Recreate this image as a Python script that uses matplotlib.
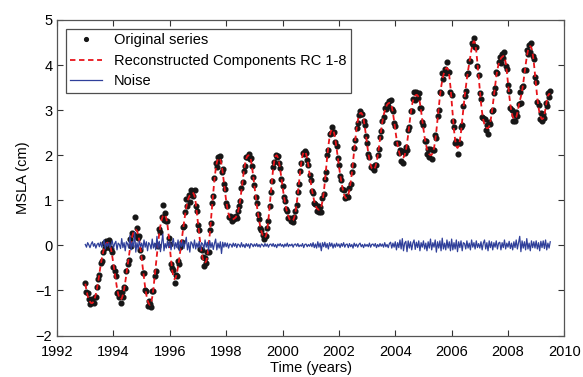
import matplotlib
matplotlib.use("Agg")
import matplotlib.pyplot as plt
import numpy as np

# reconstructed components (RC 1-8), half-monthly values, 1993.0 .. 2009.5
rc = [
    -0.85, -1.00, -1.12, -1.20, -1.25, -1.28, -1.28, -1.25, -1.18, -1.08, -0.95, -0.80,
    -0.62, -0.45, -0.30, -0.17, -0.06, 0.02, 0.05, 0.06, 0.05, 0.00, -0.10, -0.25,      # 1993
    -0.42, -0.60, -0.78, -0.95, -1.08, -1.17, -1.20, -1.18, -1.10, -0.98, -0.82, -0.64,
    -0.45, -0.26, -0.08, 0.08, 0.20, 0.29, 0.34, 0.35, 0.32, 0.24, 0.10, -0.08,         # 1994
    -0.30, -0.52, -0.74, -0.94, -1.10, -1.22, -1.29, -1.32, -1.28, -1.15, -0.96, -0.72,
    -0.46, -0.20, 0.05, 0.27, 0.44, 0.57, 0.65, 0.68, 0.67, 0.60, 0.45, 0.22,           # 1995
    -0.05, -0.32, -0.55, -0.70, -0.75, -0.72, -0.62, -0.47, -0.30, -0.10, 0.10, 0.30,
    0.50, 0.68, 0.84, 0.97, 1.06, 1.11, 1.14, 1.16, 1.16, 1.10, 0.95, 0.72,             # 1996
    0.50, 0.25, 0.02, -0.16, -0.29, -0.37, -0.39, -0.35, -0.22, -0.02, 0.25, 0.55,
    0.87, 1.18, 1.46, 1.68, 1.84, 1.92, 1.94, 1.90, 1.80, 1.62, 1.40, 1.18,             # 1997
    0.98, 0.82, 0.70, 0.62, 0.58, 0.57, 0.58, 0.60, 0.62, 0.66, 0.74, 0.86,
    1.02, 1.22, 1.44, 1.64, 1.80, 1.92, 1.98, 2.00, 1.98, 1.90, 1.74, 1.54,             # 1998
    1.32, 1.10, 0.90, 0.72, 0.56, 0.42, 0.31, 0.23, 0.18, 0.17, 0.22, 0.36,
    0.58, 0.86, 1.16, 1.45, 1.70, 1.88, 1.98, 2.00, 1.95, 1.84, 1.68, 1.50,             # 1999
    1.30, 1.12, 0.96, 0.83, 0.72, 0.64, 0.58, 0.55, 0.54, 0.56, 0.62, 0.74,
    0.92, 1.14, 1.40, 1.64, 1.85, 2.00, 2.07, 2.08, 2.03, 1.92, 1.76, 1.58,             # 2000
    1.40, 1.24, 1.10, 0.98, 0.89, 0.83, 0.80, 0.79, 0.80, 0.86, 0.98, 1.16,
    1.40, 1.68, 1.96, 2.20, 2.40, 2.52, 2.57, 2.56, 2.48, 2.34, 2.16, 1.96,             # 2001
    1.76, 1.58, 1.42, 1.28, 1.16, 1.08, 1.05, 1.06, 1.12, 1.24, 1.40, 1.60,
    1.84, 2.10, 2.36, 2.58, 2.76, 2.88, 2.93, 2.94, 2.90, 2.80, 2.64, 2.44,             # 2002
    2.24, 2.05, 1.90, 1.78, 1.71, 1.68, 1.69, 1.74, 1.84, 1.98, 2.16, 2.36,
    2.56, 2.74, 2.88, 2.98, 3.06, 3.12, 3.15, 3.16, 3.15, 3.08, 2.94, 2.76,             # 2003
    2.56, 2.38, 2.22, 2.10, 2.00, 1.96, 1.94, 1.95, 2.00, 2.10, 2.26, 2.46,
    2.68, 2.90, 3.08, 3.20, 3.28, 3.32, 3.34, 3.33, 3.28, 3.16, 2.98, 2.78,             # 2004
    2.58, 2.40, 2.26, 2.14, 2.06, 2.02, 2.00, 2.01, 2.06, 2.16, 2.32, 2.54,
    2.80, 3.06, 3.30, 3.50, 3.66, 3.78, 3.87, 3.92, 3.94, 3.90, 3.76, 3.52,             # 2005
    3.20, 2.86, 2.56, 2.34, 2.20, 2.16, 2.20, 2.32, 2.52, 2.78, 3.04, 3.28,
    3.50, 3.70, 3.88, 4.04, 4.20, 4.36, 4.48, 4.53, 4.48, 4.30, 4.04, 3.74,             # 2006
    3.44, 3.16, 2.94, 2.78, 2.68, 2.63, 2.60, 2.60, 2.64, 2.74, 2.90, 3.10,
    3.32, 3.54, 3.74, 3.90, 4.02, 4.10, 4.15, 4.18, 4.20, 4.18, 4.06, 3.86,             # 2007
    3.60, 3.34, 3.12, 2.96, 2.86, 2.81, 2.80, 2.84, 2.94, 3.08, 3.20, 3.30,
    3.42, 3.60, 3.80, 4.00, 4.18, 4.32, 4.40, 4.42, 4.38, 4.26, 4.06, 3.80,             # 2008
    3.52, 3.26, 3.06, 2.92, 2.84, 2.80, 2.82, 2.90, 3.04, 3.20, 3.32, 3.36, 3.35,       # 2009
]

# noise (original series minus RC 1-8)
noise = [
    0.02, -0.04, 0.06, 0.01, -0.05, 0.03, 0.08, -0.02, 0.04, -0.06, 0.02, 0.05,
    -0.03, 0.07, -0.04, 0.02, 0.12, -0.08, 0.05, -0.02, 0.06, -0.05, 0.03, 0.10,
    -0.06, 0.04, 0.09, -0.10, 0.05, 0.02, -0.07, 0.15, -0.05, 0.06, -0.12, 0.08,
    0.03, -0.06, 0.22, -0.10, 0.07, -0.04, 0.30, -0.15, 0.06, -0.08, 0.10, -0.03,
    0.05, -0.09, 0.12, -0.04, 0.08, -0.12, 0.06, 0.02, -0.08, 0.14, -0.06, 0.05,
    -0.10, 0.20, -0.07, 0.09, -0.14, 0.06, 0.25, -0.12, 0.04, -0.06, 0.10, -0.05,
    0.08, -0.10, 0.05, 0.15, -0.08, 0.06, -0.05, 0.12, -0.12, 0.07, -0.03, 0.10,
    -0.07, 0.05, 0.18, -0.10, 0.06, -0.15, 0.08, 0.04, -0.06, 0.12, -0.08, 0.05,
    -0.05, 0.09, -0.10, 0.06, 0.03, -0.08, 0.12, -0.04, 0.07, -0.12, 0.10, -0.05,
    0.06, -0.09, 0.04, 0.14, -0.10, 0.05, -0.06, 0.08, -0.18, 0.07, -0.04, 0.06,
    -0.03, 0.05, -0.06, 0.03, 0.02, -0.04, 0.05, -0.02, 0.04, -0.05, 0.03, 0.01,
    -0.04, 0.06, -0.03, 0.02, -0.05, 0.04, -0.02, 0.03, -0.06, 0.04, 0.02, -0.03,
    0.03, -0.02, 0.04, -0.03, 0.02, -0.04, 0.03, 0.01, -0.03, 0.04, -0.02, 0.03,
    -0.04, 0.02, 0.03, -0.02, 0.04, -0.03, 0.02, -0.05, 0.03, -0.01, 0.04, -0.02,
    0.02, -0.04, 0.03, -0.02, 0.05, -0.03, 0.02, -0.01, 0.03, -0.04, 0.02, 0.03,
    -0.02, 0.04, -0.03, 0.01, -0.02, 0.04, -0.05, 0.02, 0.03, -0.03, 0.02, -0.02,
    0.04, -0.03, 0.06, -0.05, 0.03, -0.06, 0.08, -0.04, 0.05, -0.12, 0.06, -0.03,
    0.07, -0.05, 0.04, -0.08, 0.06, -0.02, 0.05, -0.06, 0.03, -0.04, 0.05, -0.02,
    0.03, -0.05, 0.04, -0.02, 0.06, -0.04, 0.02, 0.03, -0.05, 0.04, -0.03, 0.02,
    -0.06, 0.05, -0.02, 0.03, -0.04, 0.02, 0.05, -0.03, 0.02, -0.05, 0.03, -0.02,
    0.02, -0.03, 0.05, -0.04, 0.02, 0.03, -0.02, 0.04, -0.05, 0.02, -0.03, 0.04,
    -0.02, 0.03, -0.04, 0.06, -0.03, 0.02, -0.05, 0.04, 0.07, -0.06, 0.05, -0.04,
    0.08, -0.10, 0.06, -0.05, 0.12, -0.08, 0.15, -0.12, 0.05, 0.09, -0.14, 0.10,
    -0.06, 0.08, -0.10, 0.05, 0.12, -0.09, 0.07, -0.05, 0.10, -0.12, 0.06, -0.04,
    0.10, -0.08, 0.05, -0.12, 0.08, -0.06, 0.14, -0.10, 0.06, -0.04, 0.12, -0.15,
    0.08, -0.06, 0.10, -0.12, 0.16, -0.08, 0.05, -0.10, 0.12, -0.06, 0.08, -0.12,
    0.14, -0.10, 0.06, -0.08, 0.12, -0.14, 0.08, -0.05, 0.10, -0.12, 0.06, 0.04,
    -0.08, 0.10, -0.06, 0.05, -0.10, 0.12, -0.04, 0.06, -0.08, 0.10, -0.05, 0.04,
    -0.06, 0.08, -0.10, 0.05, 0.12, -0.08, 0.06, -0.12, 0.10, -0.05, 0.08, -0.10,
    0.06, -0.04, 0.10, -0.08, 0.05, 0.07, -0.10, 0.06, -0.05, 0.12, -0.08, 0.05,
    -0.04, 0.09, -0.07, 0.05, -0.10, 0.08, -0.05, 0.12, -0.08, 0.06, 0.20, -0.14,
    0.10, -0.06, 0.08, -0.10, 0.15, -0.08, 0.05, -0.12, 0.10, -0.05, 0.08, -0.06,
    0.10, -0.08, 0.06, -0.12, 0.09, -0.05, 0.10, -0.07, 0.12, -0.10, 0.05, -0.06, 0.08,
]

t = 1993.0 + np.arange(len(rc)) / 24.0
rc = np.array(rc)
noise = np.array(noise)
orig = rc + noise

plt.rcParams['font.family'] = ['Liberation Sans', 'DejaVu Sans']

fig = plt.figure(figsize=(5.83, 3.77), dpi=100)
ax = fig.add_axes([0.098, 0.110, 0.870, 0.837])

ax.plot(t, orig, linestyle='None', marker='o', color='#161616', markersize=3.4, label='Original series')
ax.plot(t, rc, color='#e8141a', linestyle='--', linewidth=1.3, dashes=(3, 2), label='Reconstructed Components RC 1-8')
ax.plot(t, noise, color='#2f3f9a', linewidth=0.9, label='Noise')

ax.set_xlim(1992, 2010)
ax.set_ylim(-2, 5)
ax.set_xticks(np.arange(1992, 2011, 2))
ax.set_yticks(np.arange(-2, 6, 1))
ax.tick_params(axis='both', direction='in', top=True, right=True, labelsize=10.5, length=4, color='#333333')
ax.tick_params(axis='x', pad=7)
for s in ax.spines.values():
    s.set_color('#555555')
    s.set_linewidth(0.9)

ax.set_xlabel('Time (years)', fontsize=10.5, labelpad=1)
ax.set_ylabel('MSLA (cm)', fontsize=10.5, labelpad=4)

leg = ax.legend(loc='upper left', fontsize=10.5, frameon=True, fancybox=False, handlelength=2.2,
                markerscale=0.8, borderaxespad=0.6, borderpad=0.3, labelspacing=0.45, handletextpad=0.8)
leg.get_frame().set_edgecolor('#222222')
leg.get_frame().set_linewidth(0.9)

fig.savefig('out.png', dpi=100)
